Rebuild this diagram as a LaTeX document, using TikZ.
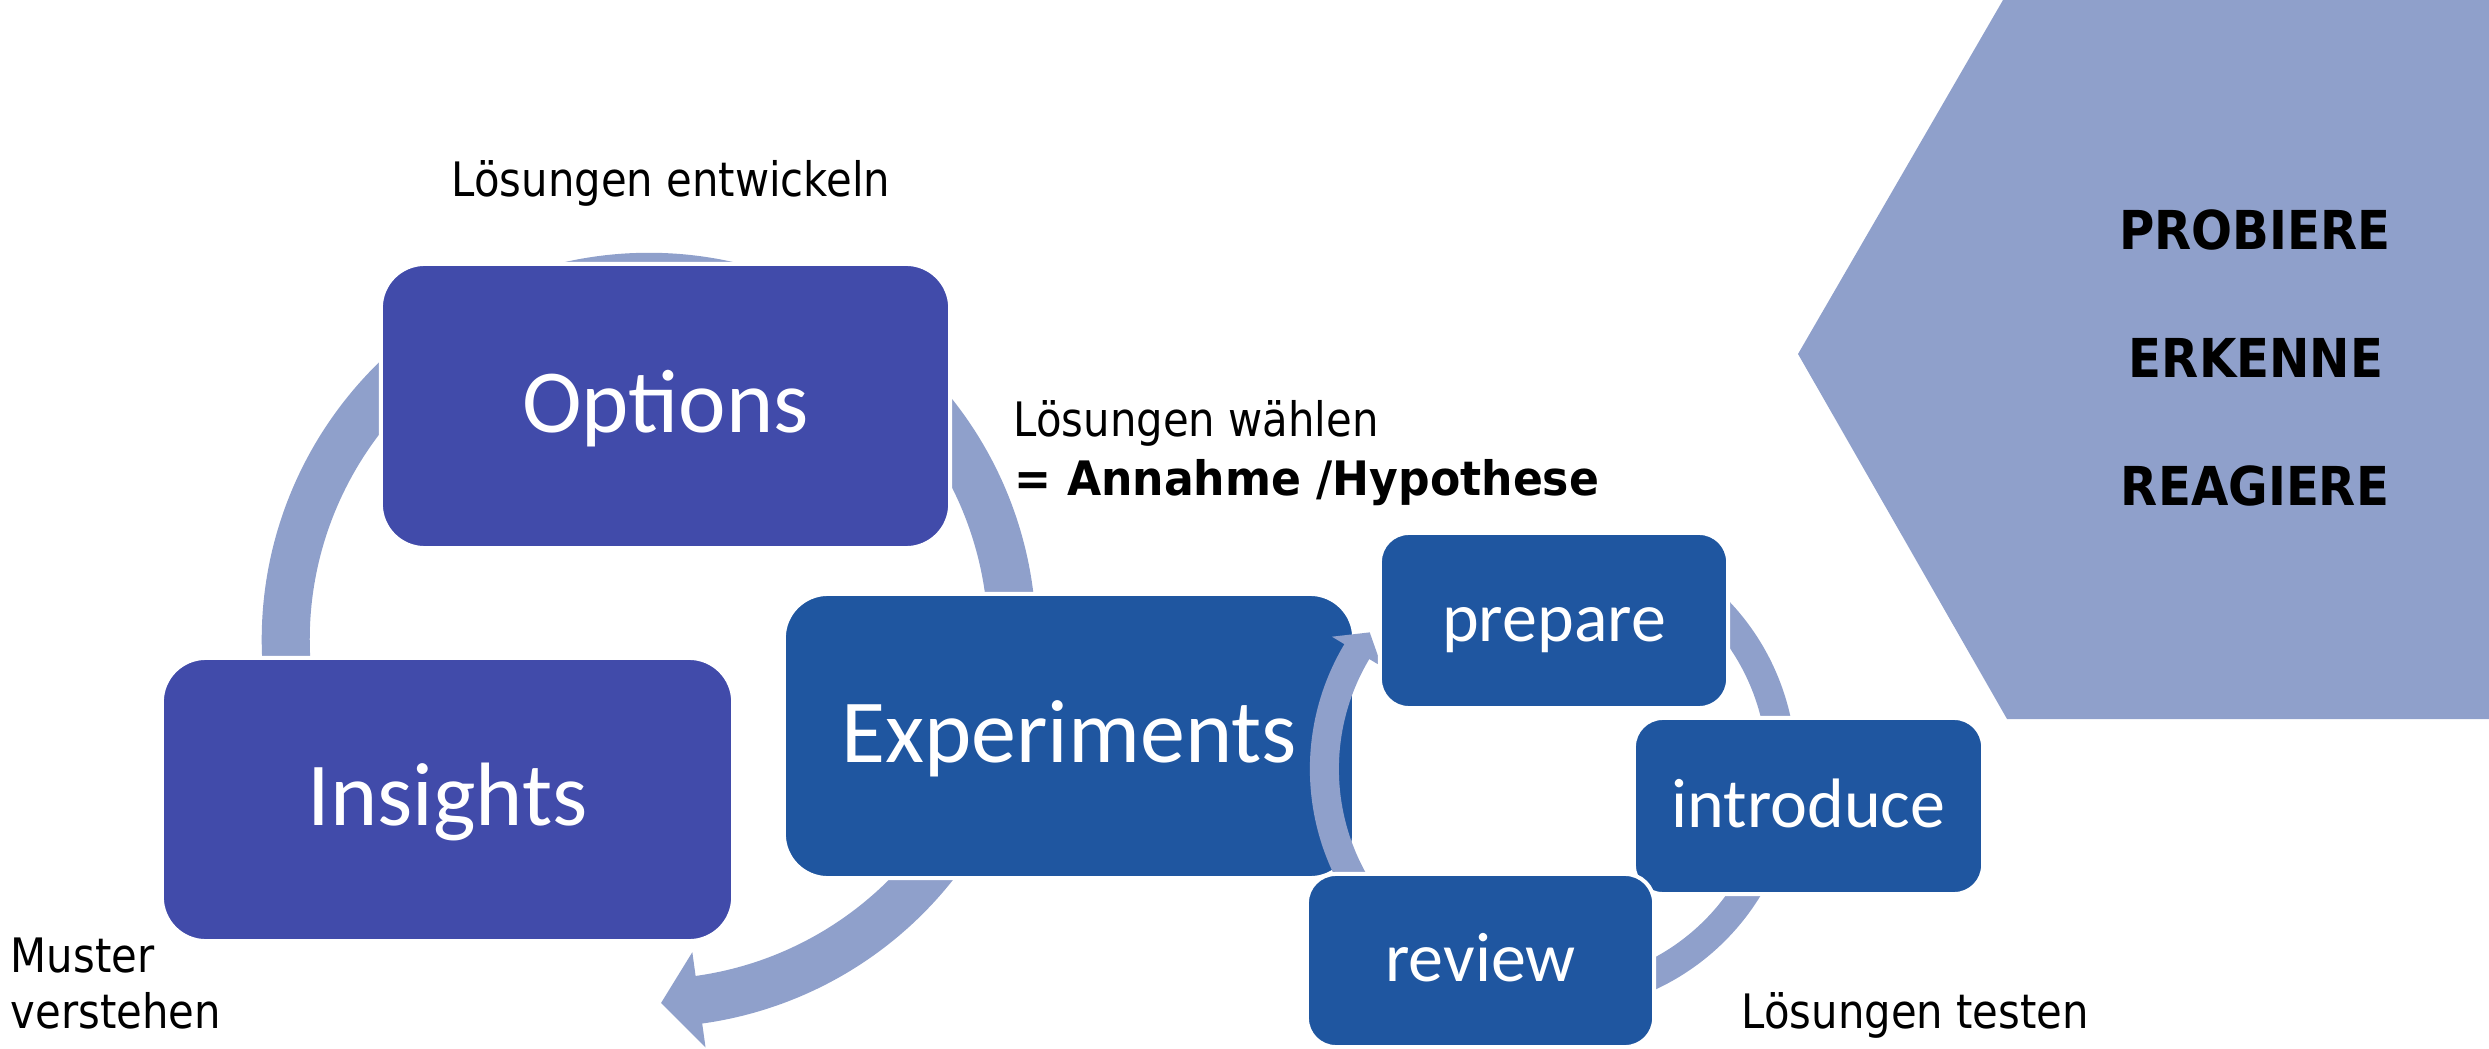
\documentclass[tikz,border=0pt]{standalone}
\usepackage{fontspec}
\setmainfont{Carlito}
\newfontfamily\lblfont[FakeStretch=0.88]{DejaVu Sans}
\newfontfamily\lblbfont[FakeStretch=0.93]{DejaVu Sans}
\newfontfamily\keyfont[FakeStretch=0.90]{DejaVu Sans}
\usetikzlibrary{calc}
\definecolor{optcol}{RGB}{65,75,170}
\definecolor{expcol}{RGB}{31,86,160}
\definecolor{arrcol}{RGB}{143,160,203}
\begin{document}
\begin{tikzpicture}[x=0.01cm,y=0.01cm,
  boxbase/.style={draw=white, line width=0.04cm, inner sep=0pt, outer sep=0pt, text=white},
  bigbox/.style={boxbase, rounded corners=0.44cm, font=\fontsize{25.6pt}{30pt}\selectfont, text height=0.52cm, text depth=0pt},
  smallbox/.style={boxbase, rounded corners=0.29cm, font=\fontsize{19.9pt}{24pt}\selectfont, text height=0.42cm, text depth=0pt},
  bigband/.style={draw=arrcol, line width=0.48cm},
  smallband/.style={draw=arrcol, line width=0.29cm},
  lbl/.style={inner sep=0pt, anchor=base west, font={\lblfont\fontsize{13.5pt}{16pt}\selectfont}},
  lblb/.style={inner sep=0pt, anchor=base west, font={\lblbfont\bfseries\fontsize{13.5pt}{16pt}\selectfont}},
  keytxt/.style={inner sep=0pt, anchor=base, font={\keyfont\bfseries\fontsize{15.25pt}{18pt}\selectfont}}
]
\useasboundingbox (0,0) rectangle (2489,1048);
% pentagon
\fill[arrcol] (2003,1048) -- (2489,1048) -- (2489,329) -- (2007,329) -- (1798,694) -- cycle;
\node[keytxt] (k1) at (2255,798) {PROBIERE};
\node[keytxt] (k2) at (2256,670) {ERKENNE};
\node[keytxt] (k3) at (2255,543) {REAGIERE};
% circle centres
\coordinate (C) at (649,408);
\coordinate (S) at (1553,279);
% big cycle arcs (behind boxes)
\draw[bigband] ($(C)+(190:3.63cm)$) arc[start angle=190, end angle=0, radius=3.63cm];
\draw[bigband] ($(C)+(-30:3.63cm)$) arc[start angle=-30, end angle=-82.4, radius=3.63cm];
\fill[arrcol] ($(C)+(-82.1:3.15cm)$) -- ($(C)+(-88.1:3.63cm)$) -- ($(C)+(-82.1:4.11cm)$) -- cycle;
% small cycle right arc (behind boxes)
\draw[smallband] ($(S)+(60:2.285cm)$) arc[start angle=60, end angle=-70, radius=2.285cm];
% big boxes
\node[bigbox, fill=optcol, minimum width=5.69cm, minimum height=2.84cm] (opt) at (665.5,642) {Options};
\node[bigbox, fill=optcol, minimum width=5.71cm, minimum height=2.83cm] (ins) at (447.5,248.5) {Insights};
\node[bigbox, fill=expcol, minimum width=5.70cm, minimum height=2.84cm] (exp) at (1069,312) {Experiments};
% small cycle left arc with head (over Experiments)
\draw[smallband] ($(S)+(212:2.285cm)$) arc[start angle=212, end angle=148.9, radius=2.285cm];
\fill[arrcol] ($(S)+(149.1:1.995cm)$) -- ($(S)+(143.3:2.285cm)$) -- ($(S)+(149.1:2.575cm)$) -- cycle;
% small boxes
\node[smallbox, fill=expcol, minimum width=3.48cm, minimum height=1.75cm] (prep) at (1554,427.5) {prepare};
\node[smallbox, fill=expcol, minimum width=3.49cm, minimum height=1.76cm] (intro) at (1808.5,242) {introduce};
\node[smallbox, fill=expcol, minimum width=3.47cm, minimum height=1.73cm] (rev) at (1480.5,87.5) {review};
% labels
\node[lbl] (l1) at (451,851.3) {Lösungen entwickeln};
\node[lbl] (l2) at (1013,611) {Lösungen wählen};
\node[lblb] (l3) at (1014,552.5) {= Annahme /Hypothese};
\node[lbl] (l4) at (10,76) {Muster};
\node[lbl] (l5) at (10,20) {verstehen};
\node[lbl] (l6) at (1741,20) {Lösungen testen};
\end{tikzpicture}
\end{document}
